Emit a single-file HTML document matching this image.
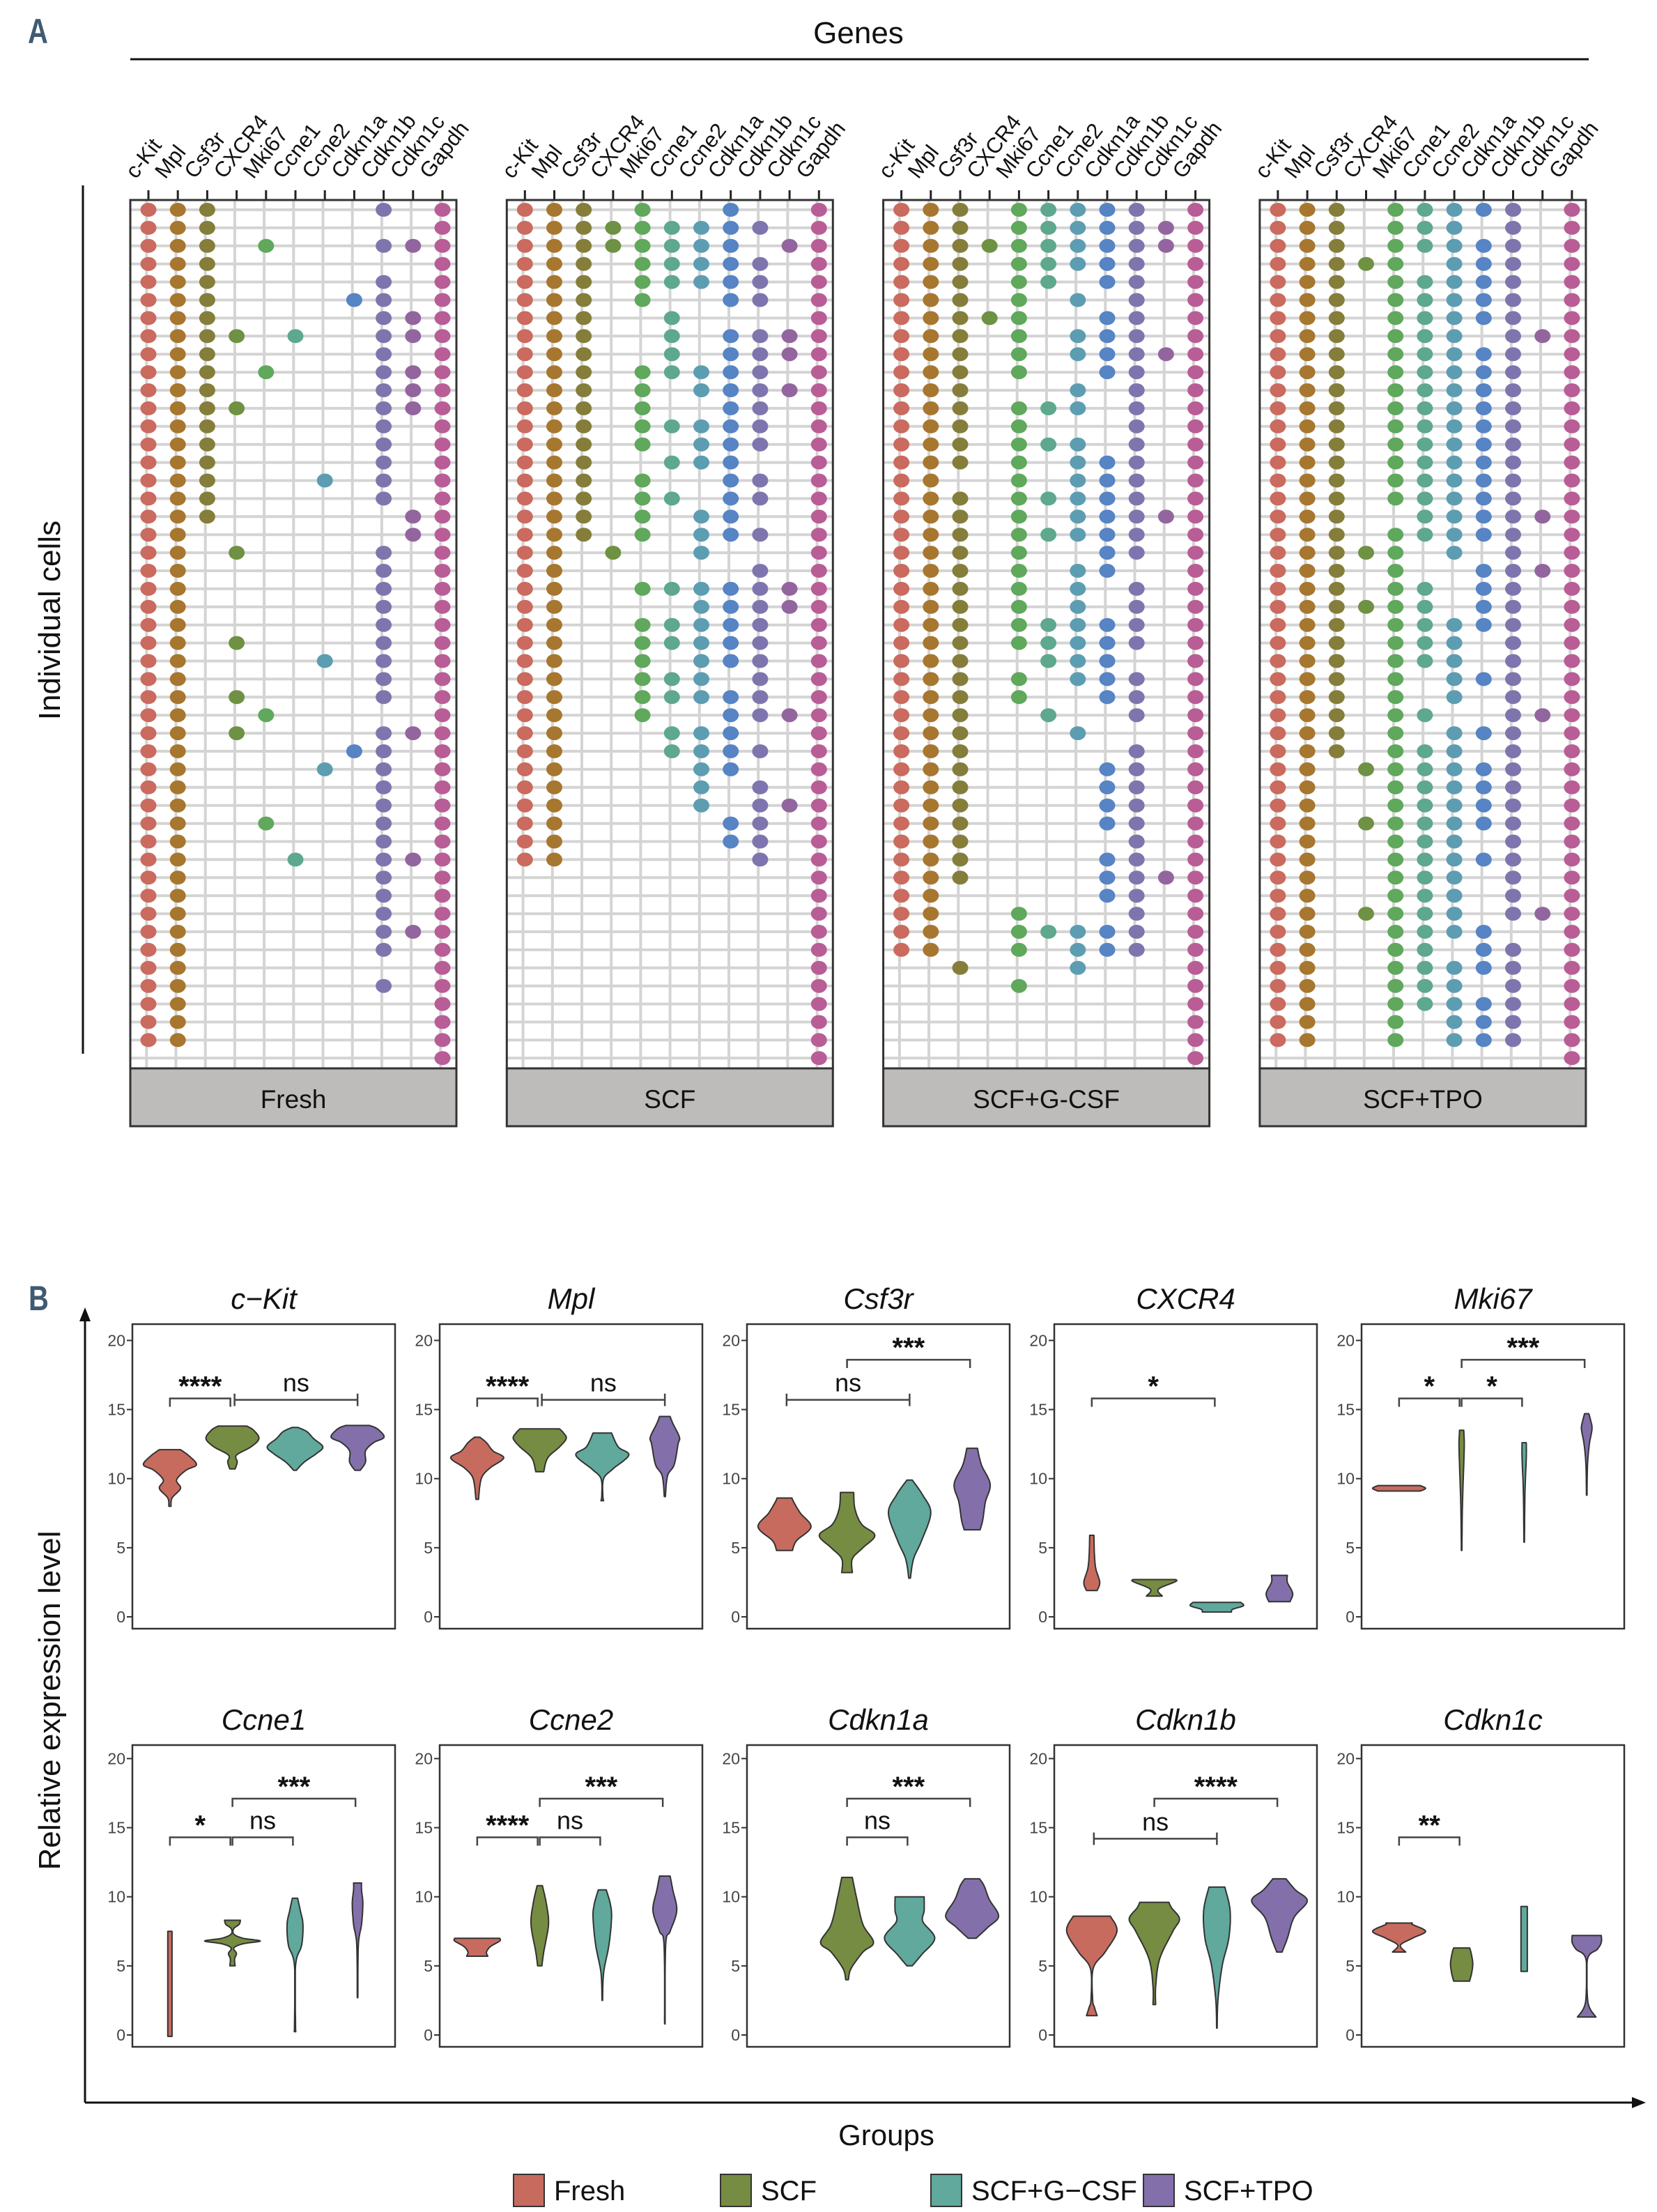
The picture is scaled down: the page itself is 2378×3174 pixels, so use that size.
<!DOCTYPE html>
<html><head><meta charset="utf-8">
<style>
html,body{margin:0;padding:0;background:#fff;}
svg{display:block;font-family:"Liberation Sans",sans-serif;}
</style></head>
<body>
<svg id="fig" xmlns="http://www.w3.org/2000/svg" width="2378" height="3174" viewBox="0 0 2378 3174">
<rect width="2378" height="3174" fill="#fff"/>
<text x="40" y="62" font-size="50" font-weight="bold" fill="#3f5b72" transform="translate(40 62) scale(0.8 1) translate(-40 -62)">A</text>
<text x="1232" y="62" font-size="44" text-anchor="middle" fill="#111">Genes</text>
<line x1="187" y1="85" x2="2280" y2="85" stroke="#111" stroke-width="3"/>
<line x1="119" y1="266" x2="119" y2="1512" stroke="#111" stroke-width="3"/>
<text transform="translate(86 890) rotate(-90)" font-size="44" text-anchor="middle" fill="#111">Individual cells</text>
<g id="dots"></g>
<text x="41" y="1880" font-size="50" font-weight="bold" fill="#3f5b72" transform="translate(41 1880) scale(0.8 1) translate(-41 -1880)">B</text>
<line x1="122" y1="3017" x2="122" y2="1892" stroke="#111" stroke-width="3"/>
<polygon points="122,1876 114,1896 130,1896" fill="#111"/>
<line x1="122" y1="3017" x2="2346" y2="3017" stroke="#111" stroke-width="3"/>
<polygon points="2362,3017 2342,3009 2342,3025" fill="#111"/>
<text transform="translate(86 2440) rotate(-90)" font-size="44" text-anchor="middle" fill="#111">Relative expression level</text>
<text x="1272" y="3078" font-size="42" text-anchor="middle" fill="#111">Groups</text>
<g id="violins"></g>
<g id="legend"></g>
</svg>
<script>
// ---------- Panel A data ----------
const genes = ["c-Kit","Mpl","Csf3r","CXCR4","Mki67","Ccne1","Ccne2","Cdkn1a","Cdkn1b","Cdkn1c","Gapdh"];
const geneColors = ["#cb6a5e","#a7772f","#857e3a","#6e9143","#5fa85c","#5ea88e","#5d9db2","#5684c4","#7f75ae","#93659e","#b95d97"];
const conditions = ["Fresh","SCF","SCF+G-CSF","SCF+TPO"];
const freshCells = ["11100000101","11100000001","11101000111","11100000001","11100000101","11100001101","11100000111","11110100111","11100000101","11101000111","11100000111","11110000111","11100000101","11100000101","11100000101","11100010101","11100000101","11100000011","11000000011","11010000101","11000000101","11000000101","11000000101","11000000101","11010000101","11000010101","11000000101","11010000101","11001000001","11010000111","11000001101","11000010101","11000000101","11000000101","11001000101","11000000101","11000100111","11000000101","11000000101","11000000101","11000000111","11000000101","11000000001","11000000101","11000000001","11000000001","11000000001","00000000001"];
const scfCells = ["11101001001","11111111101","11111111011","11101111101","11101111101","11101001101","11100100001","11100101111","11100101111","11101111101","11101011111","11101001101","11101111101","11101011101","11100111001","11101001101","11101101101","11101011001","11101011101","11010010001","11000000101","11001111111","11000011111","11001111101","11001111101","11001011101","11001110101","11001111101","11001001111","11000111001","11000111101","11000011001","11000010101","11000010111","11000001101","11000001101","11000000101","00000000001","00000000001","00000000001","00000000001","00000000001","00000000001","00000000001","00000000001","00000000001","00000000001","00000000001"];
const gcsfCells = ["11101111101","11101111111","11111111111","11101111101","11101101101","11101010101","11111001101","11101011101","11101011111","11101001101","11100010101","11101110101","11101000101","11101110101","11101011101","11001011101","11101111101","11101011111","11101111101","11101001101","11101011001","11101010101","11101010101","11101111101","11101111101","11100111001","11101011101","11101001101","11100100101","11100010001","11100000101","11100001101","11100001101","11100001101","11100001101","11100000101","11100001101","11100001111","11000001101","11001000101","11001111101","11001011101","00100010001","00001000001","00000000001","00000000001","00000000001","00000000001"];
const tpoCells = ["11101111101","11101110101","11101111101","11111011101","11101111101","11101111101","11101111101","11101110111","11101111101","11101111101","11101111101","11101111101","11101111101","11101111101","11101111101","11101111101","11101111101","11100111111","11101111101","11111010101","11101001111","11101101101","11111101101","11101111101","11101110101","11101110101","11101011101","11101010101","11101100111","11101011101","11101110101","11011111101","11001111101","11001111101","11011111101","11001110101","11001111101","11001110101","11001110101","11011110111","11001111001","11001101101","11001111101","11001110101","11001111101","11001011101","11001011101","00000000001"];
const panelCells = [freshCells, scfCells, gcsfCells, tpoCells];

// ---------- Panel B data ----------
const groups = ["Fresh","SCF","SCF+G-CSF","SCF+TPO"];
const groupColors = ["#c86b5f","#768c42","#60a99c","#8370aa"];
const violinGenes = ["c-Kit","Mpl","Csf3r","CXCR4","Mki67","Ccne1","Ccne2","Cdkn1a","Cdkn1b","Cdkn1c"];
const yTicks = [0,5,10,15,20];
// each violin: [level, relative half-width]
const profCKit = [
 [[8.0,0.04],[8.6,0.08],[9.3,0.4],[9.9,0.25],[10.6,0.6],[11.0,1.0],[11.6,0.75],[12.1,0.4]],
 [[10.7,0.1],[11.2,0.18],[11.7,0.15],[12.3,0.7],[12.9,1.0],[13.5,0.8],[13.8,0.55]],
 [[10.6,0.05],[11.2,0.35],[11.8,0.8],[12.3,1.05],[12.9,0.7],[13.4,0.45],[13.7,0.12]],
 [[10.6,0.1],[11.2,0.3],[12.0,0.3],[12.6,0.6],[13.0,1.0],[13.6,0.75],[13.85,0.45]]];
const profMpl = [
 [[8.5,0.05],[9.5,0.1],[10.2,0.2],[10.8,0.5],[11.5,1.0],[12.0,0.6],[12.6,0.35],[13.0,0.1]],
 [[10.5,0.15],[11.5,0.3],[12.3,0.75],[12.9,1.0],[13.3,0.9],[13.6,0.75]],
 [[8.4,0.05],[8.8,0.02],[10.0,0.05],[10.7,0.4],[11.7,1.0],[12.3,0.6],[13.3,0.35]],
 [[8.7,0.02],[10.2,0.1],[11.0,0.35],[12.5,0.5],[13.0,0.55],[14.0,0.3],[14.5,0.2]]];
const profCsf3r = [
 [[4.8,0.3],[5.5,0.45],[6.5,1.0],[7.5,0.6],[8.3,0.35],[8.6,0.28]],
 [[3.2,0.2],[4.2,0.2],[5.0,0.6],[5.9,1.05],[6.7,0.55],[7.8,0.3],[9.0,0.25]],
 [[2.8,0.03],[4.2,0.15],[5.5,0.45],[7.5,0.8],[8.8,0.5],[9.9,0.1]],
 [[6.3,0.3],[7.0,0.4],[8.3,0.5],[9.6,0.68],[11.0,0.35],[12.2,0.2]]];
const profCXCR4 = [
 [[1.9,0.2],[2.5,0.3],[3.5,0.15],[4.5,0.1],[5.9,0.08]],
 [[1.5,0.3],[2.0,0.15],[2.55,0.8],[2.7,0.8]],
 [[0.35,0.55],[0.55,0.6],[0.8,1.0],[1.05,0.9]],
 [[1.1,0.4],[1.7,0.5],[2.5,0.3],[3.0,0.3]]];
const profMki67 = [
 [[9.1,0.8],[9.3,1.0],[9.5,0.8]],
 [[4.8,0.01],[8.0,0.03],[11.0,0.08],[12.5,0.1],[13.5,0.08]],
 [[5.4,0.01],[9.0,0.03],[11.5,0.08],[12.6,0.08]],
 [[8.8,0.01],[11.0,0.03],[12.5,0.1],[13.6,0.2],[14.2,0.15],[14.7,0.08]]];
const profCcne1 = [
 [[-0.1,0.08],[3.7,0.08],[7.5,0.08]],
 [[5.0,0.1],[5.5,0.08],[5.9,0.15],[6.3,0.05],[6.6,0.4],[6.8,1.05],[7.0,0.4],[7.3,0.05],[7.7,0.05],[8.0,0.25],[8.3,0.3]],
 [[0.3,0.03],[0.7,0.02],[5.0,0.02],[6.5,0.25],[8.0,0.3],[9.0,0.2],[9.9,0.1]],
 [[2.7,0.01],[6.5,0.03],[8.0,0.15],[9.5,0.2],[10.5,0.15],[11.0,0.15]]];
const profCcne2 = [
 [[5.7,0.4],[6.0,0.35],[6.4,0.5],[6.8,0.85],[7.0,0.85]],
 [[5.0,0.08],[6.0,0.15],[8.0,0.33],[9.5,0.25],[10.8,0.1]],
 [[2.5,0.01],[4.5,0.05],[6.5,0.25],[8.5,0.35],[9.5,0.3],[10.5,0.15]],
 [[0.8,0.01],[6.5,0.03],[7.5,0.2],[9.0,0.45],[10.5,0.3],[11.5,0.2]]];
const profCdkn1a = [
 [],
 [[4.0,0.05],[4.8,0.15],[6.0,0.6],[6.7,1.0],[8.0,0.6],[10.0,0.35],[11.4,0.2]],
 [[5.0,0.1],[5.8,0.45],[7.0,0.95],[8.2,0.5],[9.0,0.55],[10.0,0.55]],
 [[7.0,0.15],[7.8,0.6],[8.6,1.0],[9.8,0.65],[10.8,0.45],[11.3,0.28]]];
const profCdkn1b = [
 [[1.4,0.2],[2.0,0.1],[2.6,0.03],[4.8,0.05],[6.0,0.5],[7.5,0.95],[8.6,0.7]],
 [[2.2,0.05],[3.5,0.05],[5.5,0.2],[7.5,0.7],[8.4,0.95],[9.2,0.65],[9.6,0.55]],
 [[0.5,0.01],[2.5,0.04],[5.0,0.2],[7.0,0.45],[9.0,0.5],[10.7,0.3]],
 [[6.0,0.1],[7.0,0.3],[8.5,0.55],[9.7,1.05],[10.5,0.6],[11.3,0.25]]];
const profCdkn1c = [
 [[6.0,0.25],[6.5,0.05],[7.0,0.5],[7.5,1.0],[8.0,0.5],[8.1,0.5]],
 [[3.9,0.3],[4.5,0.38],[5.2,0.42],[6.0,0.35],[6.3,0.3]],
 [[4.6,0.12],[7.0,0.12],[9.3,0.12]],
 [[1.3,0.35],[2.0,0.1],[3.0,0.02],[5.5,0.03],[6.2,0.4],[6.7,0.55],[7.2,0.55]]];
const profiles = [profCKit,profMpl,profCsf3r,profCXCR4,profMki67,profCcne1,profCcne2,profCdkn1a,profCdkn1b,profCdkn1c];
// significance: [fromGroup, toGroup, level, label, style]
const sigCKit = [[0,1,15.8,"****","b"],[1,3,15.7,"ns","e"]];
const sigMpl = [[0,1,15.8,"****","b"],[1,3,15.7,"ns","e"]];
const sigCsf3r = [[0,2,15.7,"ns","e"],[1,3,18.6,"***","b"]];
const sigCXCR4 = [[0,2,15.8,"*","b"]];
const sigMki67 = [[0,1,15.8,"*","b"],[1,2,15.8,"*","b"],[1,3,18.6,"***","b"]];
const sigCcne1 = [[0,1,14.3,"*","b"],[1,2,14.3,"ns","b"],[1,3,17.1,"***","b"]];
const sigCcne2 = [[0,1,14.3,"****","b"],[1,2,14.3,"ns","b"],[1,3,17.1,"***","b"]];
const sigCdkn1a = [[1,2,14.3,"ns","b"],[1,3,17.1,"***","b"]];
const sigCdkn1b = [[0,2,14.2,"ns","e"],[1,3,17.1,"****","b"]];
const sigCdkn1c = [[0,1,14.3,"**","b"]];
const sigs = [sigCKit,sigMpl,sigCsf3r,sigCXCR4,sigMki67,sigCcne1,sigCcne2,sigCdkn1a,sigCdkn1b,sigCdkn1c];

const NS = "http://www.w3.org/2000/svg";
function mk(tag, attrs, parent){ const e=document.createElementNS(NS,tag); for(const k in attrs) e.setAttribute(k,attrs[k]); parent.appendChild(e); return e; }

// ---------- Draw Panel A ----------
const dotsG = document.getElementById('dots');
const PX0 = 187, PSTEP = 540.3, PW = 468, PTOP = 287, PBOT = 1533, STRIPB = 1616;
const colX = (p,c) => PX0 + p*PSTEP + 26 + c*42.2;
const rowY = r => 301 + r*25.9;
conditions.forEach((cond,p)=>{
  const x0 = PX0 + p*PSTEP;
  const g = mk('g',{},dotsG);
  
  
  const bg = mk('rect',{x:x0,y:PTOP,width:PW,height:PBOT-PTOP,fill:'#fff'},g);
  
  
  const cells = panelCells[p];
  cells.forEach((s,r)=>{
    const hl = mk('line',{x1:x0,x2:x0+PW,y1:rowY(r),y2:rowY(r),stroke:'#d4d4d4','stroke-width':4},g);
    
    
  });
  genes.forEach((gn,c)=>{
    const vl = mk('line',{x1:colX(p,c)-2.7,x2:colX(p,c)-2.7,y1:PTOP,y2:PBOT,stroke:'#d4d4d4','stroke-width':4},g);
    
    
    const tk = mk('line',{x1:colX(p,c),x2:colX(p,c),y1:273,y2:286,stroke:'#222','stroke-width':3},g);
    
    
    const t = mk('text',{transform:`translate(${colX(p,c)-18} 258) rotate(-52)`,'font-size':31,fill:'#111'},g);
    t.textContent = gn;
    
    
  });
  cells.forEach((s,r)=>{
    for(let c=0;c<s.length;c++){
      if(s[c]==='1'){
        const d = mk('ellipse',{cx:colX(p,c),cy:rowY(r),rx:11.5,ry:10,fill:geneColors[c]},g);
        
        
      }
    }
  });
  const fr = mk('rect',{x:x0,y:PTOP,width:PW,height:PBOT-PTOP,fill:'none',stroke:'#333','stroke-width':3},g);
  
  
  const st = mk('rect',{x:x0,y:PBOT,width:PW,height:STRIPB-PBOT,fill:'#bdbcbb',stroke:'#333','stroke-width':3},g);
  
  
  const sl = mk('text',{x:x0+PW/2,y:1590,'font-size':37,'text-anchor':'middle',fill:'#111'},g);
  sl.textContent = cond;
  
  
});

// ---------- Draw Panel B ----------
const vG = document.getElementById('violins');
const VX0 = 190, VSTEP = 441, VW = 377;
const rowTop = [1900, 2504], rowZero = [2320, 2920], UNIT = 19.83, HW = 38;
function catmull(pts, n){
  const out=[];
  for(let i=0;i<pts.length-1;i++){
    const p0=pts[Math.max(0,i-1)], p1=pts[i], p2=pts[i+1], p3=pts[Math.min(pts.length-1,i+2)];
    for(let k=0;k<n;k++){
      const t=k/n, t2=t*t, t3=t2*t;
      const f=(a,b,c,d)=>0.5*((2*b)+(-a+c)*t+(2*a-5*b+4*c-d)*t2+(-a+3*b-3*c+d)*t3);
      out.push([f(p0[0],p1[0],p2[0],p3[0]), Math.max(0.01,f(p0[1],p1[1],p2[1],p3[1]))]);
    }
  }
  out.push(pts[pts.length-1]);
  return out;
}
violinGenes.forEach((gn,i)=>{
  const row = Math.floor(i/5), col = i%5;
  const x0 = VX0 + col*VSTEP, top = rowTop[row], zero = rowZero[row];
  const yS = v => zero - v*UNIT;
  const xS = k => x0 + (0.6 + k) * (VW/4.2);
  const g = mk('g',{},vG);
  
  
  const t = mk('text',{x:x0+VW/2,y:top-22,'font-size':42,'font-style':'italic','text-anchor':'middle',fill:'#111'},g);
  t.textContent = gn==='c-Kit' ? 'c\u2212Kit' : gn;
  
  
  const fr = mk('rect',{x:x0,y:top,width:VW,height:(zero+17)-top,fill:'#fff',stroke:'#333','stroke-width':2.5},g);
  
  
  yTicks.forEach(v=>{
    const tl = mk('line',{x1:x0-8,x2:x0,y1:yS(v),y2:yS(v),stroke:'#333','stroke-width':2},g);
    
    
    const tt = mk('text',{x:x0-10,y:yS(v)+8,'font-size':23,'text-anchor':'end',fill:'#444'},g);
    tt.textContent = v;
    
    
  });
  profiles[i].forEach((pts,k)=>{
    if(!pts.length) return;
    const s = catmull(pts, 10);
    const cx = xS(k);
    let d = 'M' + s.map(q=>`${(cx+q[1]*HW).toFixed(1)},${yS(q[0]).toFixed(1)}`).join(' L');
    d += ' L' + s.slice().reverse().map(q=>`${(cx-q[1]*HW).toFixed(1)},${yS(q[0]).toFixed(1)}`).join(' L') + ' Z';
    const p = mk('path',{d:d,fill:groupColors[k],stroke:'#333','stroke-width':2,'stroke-linejoin':'round'},g);
    
    
  });
  sigs[i].forEach(sg=>{
    const [a,b,lv,lab,sty] = sg;
    const xa = xS(a)+(sty==='b'?0:3), xb = xS(b)-(sty==='b'?3:0), y = yS(lv);
    let d;
    if(sty==='b') d = `M${xa},${yS(lv-0.6)} L${xa},${y} L${xb},${y} L${xb},${yS(lv-0.6)}`;
    else d = `M${xa},${y} L${xb},${y} M${xa},${yS(lv+0.45)} L${xa},${yS(lv-0.45)} M${xb},${yS(lv+0.45)} L${xb},${yS(lv-0.45)}`;
    const br = mk('path',{d:d,fill:'none',stroke:'#444','stroke-width':2.5},g);
    
    
    const isNs = lab==='ns';
    const tx = mk('text',{x:(xa+xb)/2,y:isNs? y-12 : y+8-0.0,'font-size':isNs?36:40,'font-weight':isNs?'normal':'bold','text-anchor':'middle',fill:'#111'},g);
    if(!isNs) tx.setAttribute('y', y-4);
    tx.textContent = lab;
    
    
  });
});

// ---------- Legend ----------
const lg = document.getElementById('legend');
const legBoxX = [737,1034,1336,1641];
const legText = ["Fresh","SCF","SCF+G\u2212CSF","SCF+TPO"];
groups.forEach((gname,k)=>{
  const g = mk('g',{},lg);
  
  
  const r = mk('rect',{x:legBoxX[k],y:3120,width:44,height:46,fill:groupColors[k],stroke:'#333','stroke-width':2},g);
  
  
  const t = mk('text',{x:legBoxX[k]+58,y:3157,'font-size':40,fill:'#111'},g);
  t.textContent = legText[k];
  
  
});
</script>
</body></html>
